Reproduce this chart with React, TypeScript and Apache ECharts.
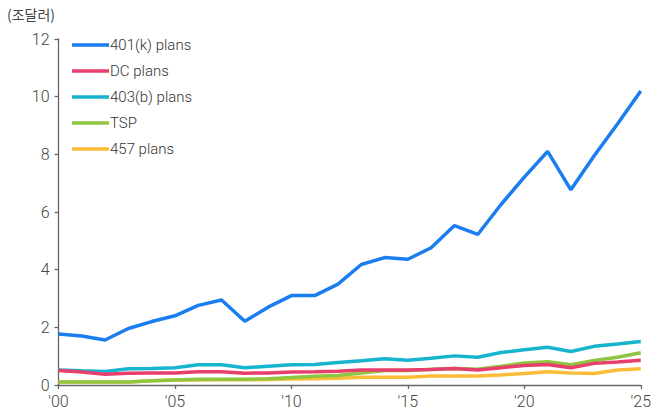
import React, { useEffect, useRef } from "react";
import * as echarts from "echarts";

const years = Array.from({ length: 26 }, (_, i) => 2000 + i);
const k401 = [1.77, 1.7, 1.56, 1.96, 2.2, 2.4, 2.76, 2.95, 2.21, 2.7, 3.1, 3.1, 3.5, 4.18, 4.42, 4.36, 4.76, 5.53, 5.22, 6.26, 7.21, 8.1, 6.77, 7.95, 9.05, 10.2];
const dc = [0.5, 0.45, 0.37, 0.41, 0.42, 0.42, 0.46, 0.46, 0.41, 0.42, 0.45, 0.46, 0.48, 0.52, 0.52, 0.52, 0.54, 0.57, 0.52, 0.6, 0.68, 0.71, 0.6, 0.75, 0.8, 0.86];
const b403 = [0.52, 0.49, 0.47, 0.56, 0.57, 0.6, 0.7, 0.7, 0.6, 0.65, 0.7, 0.71, 0.78, 0.84, 0.91, 0.86, 0.93, 1.01, 0.96, 1.13, 1.22, 1.31, 1.16, 1.34, 1.42, 1.51];
const tsp = [0.1, 0.1, 0.1, 0.1, 0.15, 0.17, 0.2, 0.2, 0.2, 0.22, 0.26, 0.3, 0.33, 0.42, 0.5, 0.5, 0.55, 0.57, 0.55, 0.65, 0.76, 0.81, 0.7, 0.85, 0.96, 1.12];
const f457 = [0.1, 0.1, 0.1, 0.1, 0.15, 0.17, 0.17, 0.18, 0.18, 0.19, 0.21, 0.22, 0.23, 0.27, 0.27, 0.27, 0.31, 0.31, 0.31, 0.35, 0.4, 0.46, 0.42, 0.4, 0.52, 0.56];

const seriesNames = ["401(k) plans", "DC plans", "403(b) plans", "TSP", "457 plans"];
const seriesData = [k401, dc, b403, tsp, f457];
const colors = ["#1a7ef0", "#e83e6c", "#17b4cf", "#8fc641", "#fbbd38"];
const unitLabel = "(조달러)";

const FONT = "'Roboto', sans-serif";

export default function App() {
  const ref = useRef<HTMLDivElement>(null);
  useEffect(() => {
    if (!ref.current) return;
    const chart = echarts.init(ref.current, null, { renderer: "svg" });
    const series = seriesNames.map((name, i) => ({
      name,
      type: "line",
      data: years.map((y, j) => [y, seriesData[i][j]]),
      showSymbol: false,
      symbol: "none",
      lineStyle: { width: 3.5, color: colors[i] },
      itemStyle: { color: colors[i] },
      z: i === 0 ? 5 : 5 - i,
    }));
    chart.setOption({
      animation: false,
      grid: { left: 58.5, right: 12, top: 39, bottom: 31, containLabel: false },
      legend: {
        orient: "vertical",
        left: 67,
        top: 32,
        icon: "rect",
        itemWidth: 37,
        itemHeight: 3.5,
        itemGap: 10,
        textStyle: { fontFamily: FONT, fontWeight: 300, fontSize: 15, color: "#333", lineHeight: 16, padding: [0, 0, 0, -4] },
        data: seriesNames,
      },
      graphic: [
        {
          type: "text",
          left: 7,
          top: 7,
          style: { text: unitLabel, fontFamily: "'Noto Sans CJK KR', sans-serif", fontSize: 14, fill: "#444" },
        },
      ],
      xAxis: {
        type: "value",
        min: 2000,
        max: 2025,
        interval: 5,
        axisLine: { show: true, lineStyle: { color: "#666", width: 1.3 } },
        axisTick: { show: true, length: 4, lineStyle: { color: "#666", width: 1.3 } },
        splitLine: { show: false },
        axisLabel: {
          fontFamily: FONT,
          fontWeight: 300,
          fontSize: 16,
          color: "#444",
          margin: 8,
          formatter: (v: number) => "'" + String(v % 100).padStart(2, "0"),
        },
      },
      yAxis: {
        type: "value",
        min: 0,
        max: 12,
        interval: 2,
        axisLine: { show: true, lineStyle: { color: "#666", width: 1.3 } },
        axisTick: { show: true, length: 4, lineStyle: { color: "#666", width: 1.3 } },
        splitLine: { show: false },
        axisLabel: { fontFamily: FONT, fontWeight: 300, fontSize: 16, color: "#444", margin: 9 },
      },
      series,
    });
    return () => chart.dispose();
  }, []);
  return <div ref={ref} style={{ width: 654, height: 416, position: "absolute", left: 0, top: 0 }} />;
}
